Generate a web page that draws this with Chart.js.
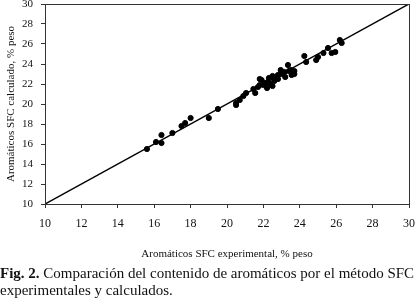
<!DOCTYPE html>
<html>
<head>
<meta charset="utf-8">
<script src="https://cdn.jsdelivr.net/npm/chart.js@4"></script>
<style>
html,body{margin:0;padding:0;background:#fff;}
#wrap{position:relative;width:419px;height:299px;overflow:hidden;}
#c{position:absolute;left:0;top:0;}
#cap{position:absolute;left:0;top:265px;width:460px;font-family:"Liberation Serif",serif;font-size:15px;line-height:17px;color:#111;white-space:nowrap;}
</style>
</head>
<body>
<div id="wrap">
<canvas id="c" width="419" height="299"></canvas>
<div id="cap"><b>Fig. 2.</b> Comparación del contenido de aromáticos por el método SFC<br>experimentales y calculados.</div>
</div>
<script>
const experimental = [15.6,16.1,16.4,16.4,17.0,17.5,17.7,18.0,19.0,19.5,20.5,20.5,20.7,20.9,21.05,21.45,21.55,21.7,21.8,21.8,21.9,22.0,22.1,22.25,22.4,22.3,22.5,22.6,22.6,22.8,22.8,22.95,23.0,23.15,23.2,23.35,23.4,23.5,23.55,23.7,23.7,22.2,22.5,24.25,24.35,24.9,25.0,25.3,25.55,25.75,25.95,26.2,26.3];
const calculado    = [15.5,16.2,16.9,16.1,17.1,17.8,18.1,18.6,18.6,19.5,19.9,20.1,20.4,20.8,21.1,21.5,21.1,21.7,22.5,21.9,22.4,21.9,22.1,22.2,22.0,22.6,22.8,22.7,22.3,22.9,22.5,23.4,23.0,23.2,22.7,23.9,23.3,23.4,22.9,23.0,23.3,21.6,21.8,24.8,24.2,24.4,24.7,25.1,25.6,25.1,25.2,26.4,26.1];
const diagonal = [10, 30];
const xTicks = [10,12,14,16,18,20,22,24,26,28,30];
const yTicks = [10,12,14,16,18,20,22,24,26,28,30];

const pts = experimental.map((x,i)=>({x:x,y:calculado[i]}));
const line = diagonal.map(v=>({x:v,y:v}));

const frame = {
  id:'frame',
  afterDraw(chart){
    const a = chart.chartArea, ctx = chart.ctx;
    ctx.save();
    ctx.strokeStyle = '#333';
    ctx.lineWidth = 1;
    ctx.strokeRect(Math.round(a.left)+0.5, Math.round(a.top)+0.5, Math.round(a.right-a.left), Math.round(a.bottom-a.top));
    ctx.restore();
  }
};

const serif = '"Liberation Serif", "Times New Roman", serif';

new Chart(document.getElementById('c'), {
  type:'scatter',
  data:{
    datasets:[
      {type:'line', data:line, borderColor:'#000', borderWidth:1.5, pointRadius:0, fill:false, order:2},
      {type:'scatter', data:pts, backgroundColor:'#000', borderColor:'#000', pointRadius:2.6, pointHoverRadius:2.6, order:1}
    ]
  },
  options:{
    responsive:false,
    animation:false,
    events:[],
    layout:{padding:{left:0,top:4,right:10,bottom:35}},
    plugins:{legend:{display:false},tooltip:{enabled:false}},
    scales:{
      x:{
        type:'linear', min:10, max:30,
        afterBuildTicks(s){ s.ticks = xTicks.map(v=>({value:v})); },
        afterFit(s){ s.height = 60; s.paddingLeft = 0; s.paddingRight = 0; },
        grid:{drawOnChartArea:false, drawTicks:true, tickLength:4, tickColor:'#333'},
        border:{color:'#333'},
        ticks:{color:'#111', padding:9, font:{family:serif,size:12}, maxRotation:0},
        title:{display:true, text:'Aromáticos SFC experimental, % peso', color:'#111', font:{family:serif,size:11}, padding:{top:0,bottom:3}}
      },
      y:{
        type:'linear', min:10, max:30,
        afterBuildTicks(s){ s.ticks = yTicks.map(v=>({value:v})); },
        afterFit(s){ s.width = 45; s.paddingTop = 0; s.paddingBottom = 0; },
        grid:{drawOnChartArea:false, drawTicks:true, tickLength:4, tickColor:'#333'},
        border:{color:'#333'},
        ticks:{color:'#111', padding:8, font:{family:serif,size:11}},
        title:{display:true, text:'Aromáticos SFC calculado, % peso', color:'#111', font:{family:serif,size:11}, padding:{top:5,bottom:0}}
      }
    }
  },
  plugins:[frame]
});
</script>
</body>
</html>
